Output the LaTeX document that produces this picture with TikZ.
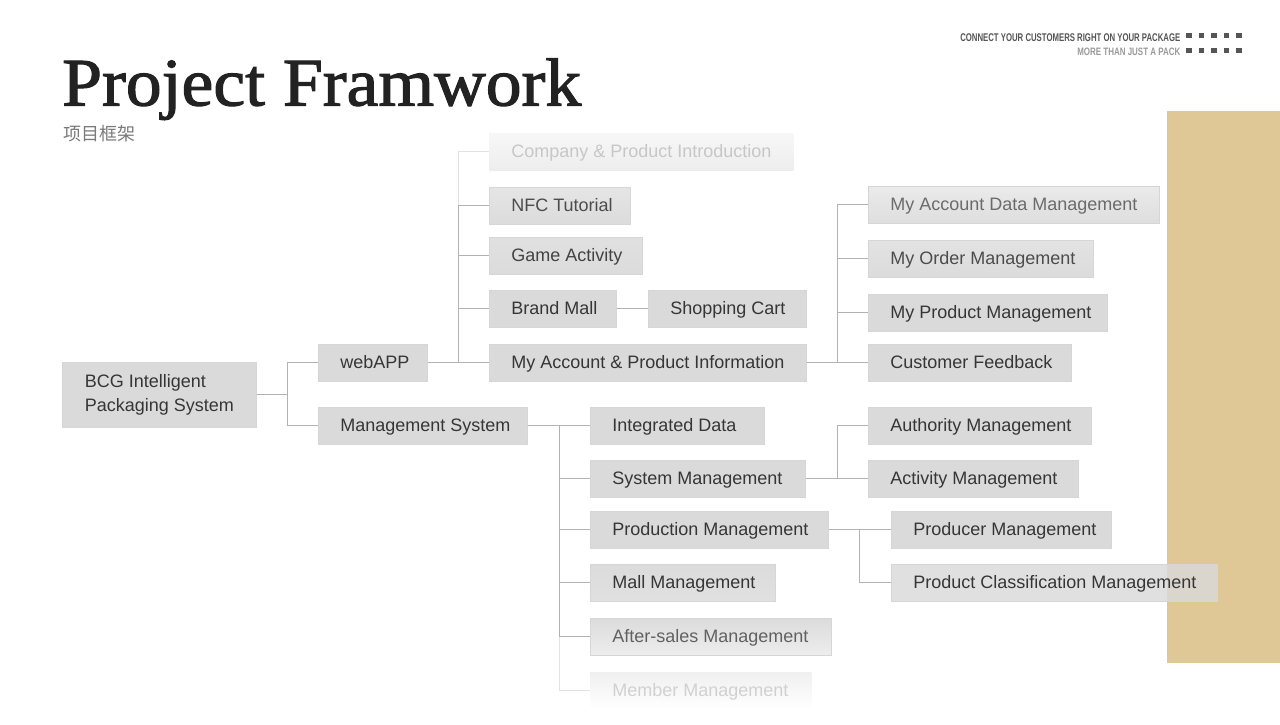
\documentclass[tikz,border=0pt]{standalone}
\usepackage{fontspec}
\setmainfont{Liberation Sans}
\newfontfamily\titlefont{Liberation Serif}[FakeBold=1.6]
\newfontfamily\cjkfont{Noto Sans CJK SC}
\definecolor{boxgray}{HTML}{DADADA}
\definecolor{boxedge}{HTML}{D6D6D6}
\definecolor{txt}{HTML}{363636}
\definecolor{linegray}{HTML}{B2B2B2}
\definecolor{linefade}{HTML}{E2E2E2}
\definecolor{tan}{HTML}{DFC796}
\definecolor{titlecol}{HTML}{222222}
\definecolor{subcol}{HTML}{7A7A7A}
\definecolor{tagdark}{HTML}{555555}
\definecolor{taglight}{HTML}{9A9A9A}
\begin{document}
\begin{tikzpicture}[x=1pt,y=-1pt,
  box/.style={fill=boxgray, draw=boxedge, line width=0.6pt, text=txt,
    inner xsep=22pt, inner ysep=0pt, minimum height=37pt, anchor=west,
    font=\fontsize{18}{22}\selectfont, text height=12.9pt, text depth=0pt,
    execute at begin node={\hbox to #1pt\bgroup},
    execute at end node={\hss\egroup}},
  conn/.style={draw=linegray, line width=1pt},
  connfade/.style={draw=linefade, line width=1pt},
  sq/.style={fill=tagdark}]
\useasboundingbox (0,0) rectangle (1280,724);
\fill[white] (0,0) rectangle (1280,724);

% tan panel
\fill[tan] (1167,111) rectangle (1280,663);

% title
\node[anchor=base west, inner sep=0pt, text=titlecol,
  font=\titlefont\fontsize{68}{76}\selectfont] (title) at (62,105.5)
  {\scalebox{1.053}[1]{Project Framwork}};
\node[anchor=base west, inner sep=0pt, text=subcol,
  font=\cjkfont\fontsize{18}{20}\selectfont] (sub) at (63,140) {项目框架};

% tag line
\node[anchor=base east, inner sep=0pt, text=tagdark] (tag1) at (1180.5,41)
  {\resizebox{220pt}{7.8pt}{\bfseries CONNECT YOUR CUSTOMERS RIGHT ON YOUR PACKAGE}};
\node[anchor=base east, inner sep=0pt, text=taglight] (tag2) at (1180.5,55)
  {\resizebox{103pt}{7.5pt}{\bfseries MORE THAN JUST A PACK}};
\foreach \i in {0,...,4} {
  \fill[sq] (1186+12.6*\i,32.5) rectangle ++(5.6,5.6);
  \fill[sq] (1186+12.6*\i,47.5) rectangle ++(5.6,5.6);
}

% root
\node[fill=boxgray, draw=boxedge, line width=0.6pt, text=txt, anchor=west,
  minimum width=194pt, minimum height=65pt, inner xsep=22pt, inner ysep=0pt,
  align=left, font=\fontsize{18}{24}\selectfont] (bcg) at (62,394.5)
  {BCG Intelligent\\Packaging System};

\node[box=65] (web) at (318,362.5) {webAPP};
\node[box=165] (ms) at (318,425.5) {Management System};

% webAPP branch
\node[box=260, top color=white!97!black, bottom color=white!93!black, draw=none, text=black!22] (company) at (489,151.5) {Company \& Product Introduction};
\node[box=97, top color=white!90!black, bottom color=white!86!black, text=black!70] (nfc) at (489,205.5) {NFC Tutorial};
\node[box=109, top color=white!88!black, bottom color=white!86!black, text=black!74] (game) at (489,255.5) {Game Activity};
\node[box=83] (brand) at (489,308.5) {Brand Mall};
\node[box=114] (cart) at (648,308.5) {Shopping Cart};
\node[box=273] (myacc) at (489,362.5) {My Account \& Product Information};

% my account branch
\node[box=247, top color=white!92!black, bottom color=white!87!black, text=black!58] (accdata) at (868,204.5) {My Account Data Management};
\node[box=181, top color=white!89!black, bottom color=white!86!black, text=black!70] (order) at (868,258.5) {My Order Management};
\node[box=195] (prod) at (868,312.5) {My Product Management};
\node[box=159] (feedback) at (868,362.5) {Customer Feedback};

% management system branch
\node[box=130] (integ) at (590,425.5) {Integrated Data};
\node[box=171] (sysm) at (590,478.5) {System Management};
\node[box=194] (prodm) at (590,529.5) {Production Management};
\node[box=141, top color=white!86!black, bottom color=white!88!black] (mall) at (590,582.5) {Mall Management};
\node[box=197, top color=white!86!black, bottom color=white!93!black, text=black!62] (after) at (590,636.5) {After-sales Management};
\node[box=177, top color=white!94!black, bottom color=white, draw=none, text=black!18] (member) at (590,690.5) {Member Management};

\node[box=179] (auth) at (868,425.5) {Authority Management};
\node[box=166] (activ) at (868,478.5) {Activity Management};
\node[box=176] (producer) at (891,529.5) {Producer Management};
\node[box=282, fill opacity=0.82, text opacity=1] (classif) at (891,582.5) {Product Classification Management};

% connectors
\draw[conn] (bcg.east) -- ++(31,0) |- (web.west);
\draw[conn] (bcg.east) -- ++(31,0) |- (ms.west);

\draw[connfade] (web.east) -- ++(31,0) |- (company.west);
\foreach \n in {nfc,game,brand,myacc}
  \draw[conn] (web.east) -- ++(31,0) |- (\n.west);
\draw[conn] (brand.east) -- (cart.west);

\foreach \n in {accdata,order,prod,feedback}
  \draw[conn] (myacc.east) -- ++(31,0) |- (\n.west);

\draw[connfade] (ms.east) -- ++(32,0) |- (member.west);
\foreach \n in {integ,sysm,prodm,mall,after}
  \draw[conn] (ms.east) -- ++(32,0) |- (\n.west);

\foreach \n in {auth,activ}
  \draw[conn] (sysm.east) -- ++(32,0) |- (\n.west);
\foreach \n in {producer,classif}
  \draw[conn] (prodm.east) -- ++(31,0) |- (\n.west);
\end{tikzpicture}
\end{document}
